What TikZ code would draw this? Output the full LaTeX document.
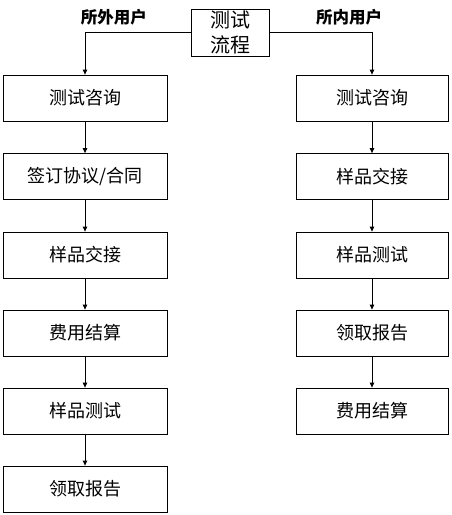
\documentclass[tikz,border=0pt]{standalone}
\usepackage{fontspec}
\setmainfont{Noto Sans CJK SC}
\usetikzlibrary{arrows.meta}

\tikzset{
  stepbox/.style={draw, line width=0.8pt, inner sep=0pt, minimum height=46pt, font=\fontsize{18}{20}\selectfont},
  leftbox/.style={stepbox, minimum width=164pt},
  rightbox/.style={stepbox, minimum width=152pt},
  flow/.style={-{Triangle[length=5pt,width=4.5pt]}, line width=0.8pt}
}

\begin{document}
\begin{tikzpicture}[x=1pt, y=-1pt]
        \useasboundingbox (0,0) rectangle (451,515);
        % 1. 标题
        \node[draw, line width=0.8pt, inner sep=0pt, minimum width=78pt, minimum height=47pt,
              align=center, font=\fontsize{20}{25}\selectfont] (title) at (230,32.5) {测试\\流程};
        \node[font=\bfseries\fontsize{16.5}{18}\selectfont] (outlbl) at (114,17) {所外用户};
        \node[font=\bfseries\fontsize{16.5}{18}\selectfont] (inlbl) at (349,17) {所内用户};

        % 2. 所外用户流程
        \node[leftbox] (out1) at (85,98) {测试咨询};
        \node[leftbox] (out2) at (85,176.5) {签订协议/合同};
        \node[leftbox] (out3) at (85,255) {样品交接};
        \node[leftbox] (out4) at (85,333) {费用结算};
        \node[leftbox] (out5) at (85,411) {样品测试};
        \node[leftbox] (out6) at (85,489) {领取报告};

        % 3. 所内用户流程
        \node[rightbox] (in1) at (372,98) {测试咨询};
        \node[rightbox] (in2) at (372,176.5) {样品交接};
        \node[rightbox] (in3) at (372,255) {样品测试};
        \node[rightbox] (in4) at (372,333) {领取报告};
        \node[rightbox] (in5) at (372,411) {费用结算};

        % 连线
        \draw[flow] (title.west) -| (out1.north);
        \draw[flow] (title.east) -| (in1.north);
        \draw[flow] (out1) -- (out2);
        \draw[flow] (out2) -- (out3);
        \draw[flow] (out3) -- (out4);
        \draw[flow] (out4) -- (out5);
        \draw[flow] (out5) -- (out6);
        \draw[flow] (in1) -- (in2);
        \draw[flow] (in2) -- (in3);
        \draw[flow] (in3) -- (in4);
        \draw[flow] (in4) -- (in5);
\end{tikzpicture}
\end{document}
